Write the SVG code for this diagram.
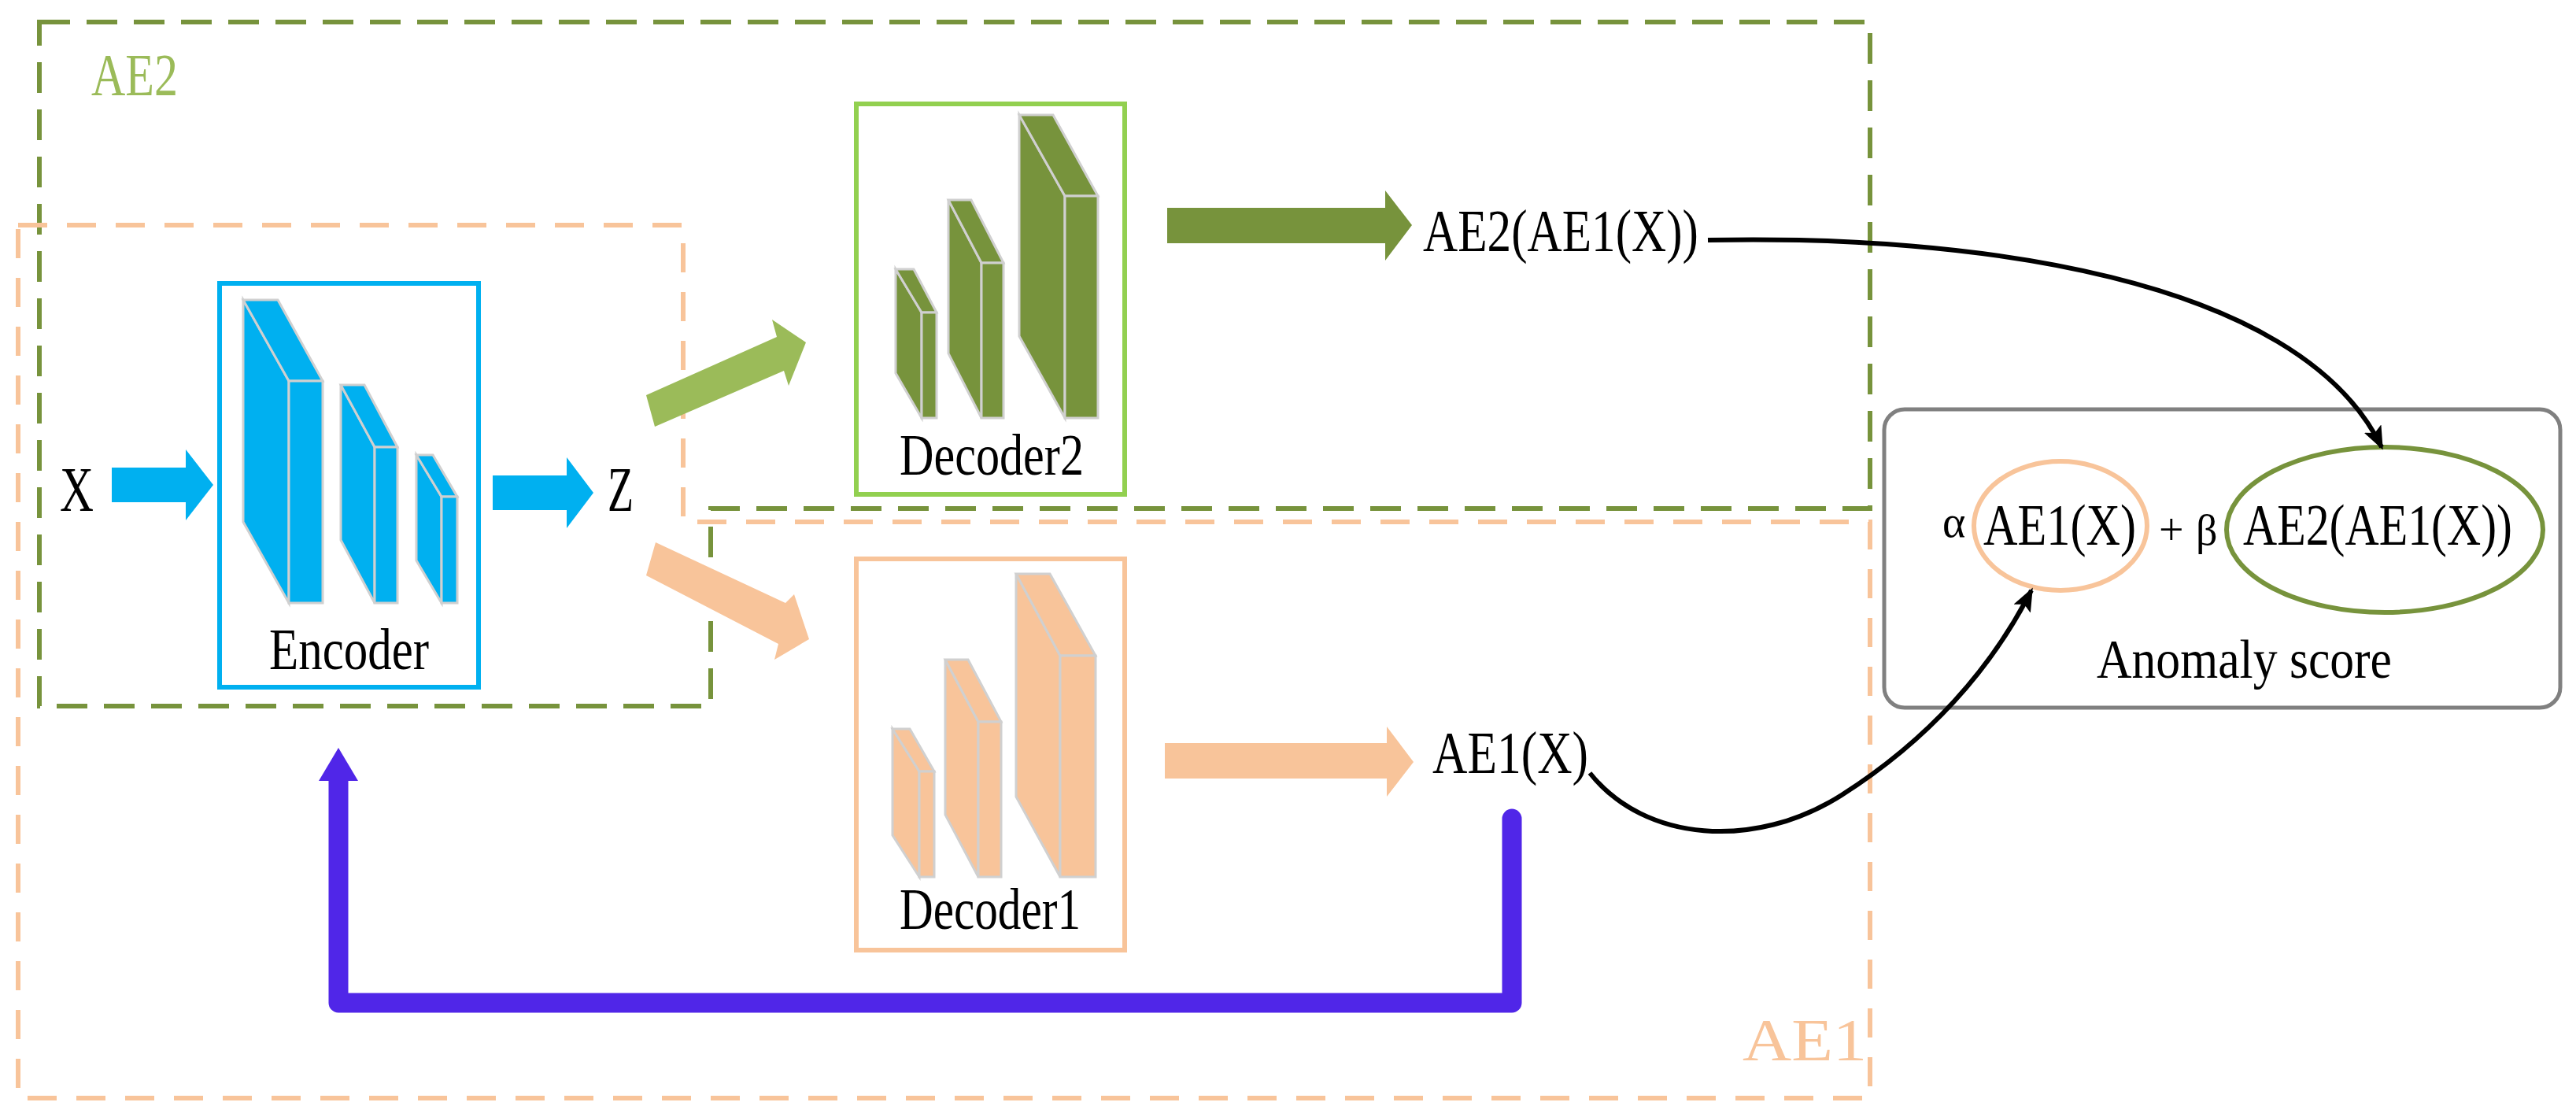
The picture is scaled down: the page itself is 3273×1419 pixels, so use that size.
<svg xmlns="http://www.w3.org/2000/svg" width="3273" height="1419" viewBox="0 0 3273 1419" font-family="'Liberation Serif', 'DejaVu Serif', serif">
<defs>
<style>
text{font-family:'Liberation Serif','DejaVu Serif',serif;fill:#000}
.blk{stroke:#D0D0D0;stroke-width:3;stroke-linejoin:miter}
.enc{fill:#00B0F0}.d2{fill:#77933C}.d1{fill:#F8C49A}
.cv{fill:none;stroke:#000;stroke-width:6}
</style>
<marker id="ah" viewBox="0 0 30 24" refX="26" refY="12" markerWidth="30" markerHeight="24" markerUnits="userSpaceOnUse" orient="auto">
<path d="M0,0 L30,12 L0,24 L6,12 Z" fill="#000"/>
</marker>
</defs>
<rect width="3273" height="1419" fill="#fff"/>
<g id="AE2-group">
<path d="M50,28 H2376 V646 H903 V897 H50 Z" fill="none" stroke="#77933C" stroke-width="6" stroke-dasharray="39 21"/>
<text x="116" y="121" font-size="77" style="fill:#9BBB59" textLength="110" lengthAdjust="spacingAndGlyphs">AE2</text>
</g>
<g id="AE1-group">
<path d="M23,286 H868 V663 H2376 V1395 H23 Z" fill="none" stroke="#F8C49A" stroke-width="6" stroke-dasharray="37 25"/>
<text x="2214" y="1347" font-size="77" style="fill:#F8C49A" textLength="158" lengthAdjust="spacingAndGlyphs">AE1</text>
</g>
<g id="encoder">
<rect x="279" y="360" width="329" height="513" fill="#fff" stroke="#00B0F0" stroke-width="6"/>
<g class="enc blk">
<polygon points="309,381 367,484 367,766 309,663"/><polygon points="309,381 353,381 410,484 367,484"/><rect x="367" y="484" width="43" height="282"/>
<polygon points="433,489 476,568 476,766 433,686"/><polygon points="433,489 463,489 505,568 476,568"/><rect x="476" y="568" width="29" height="198"/>
<polygon points="529,578 561,631 561,766 529,712"/><polygon points="529,578 550,578 581,631 561,631"/><rect x="561" y="631" width="20" height="135"/>
</g>
<text x="342" y="850" font-size="75" textLength="203" lengthAdjust="spacingAndGlyphs">Encoder</text>
</g>
<g id="decoder2">
<rect x="1088" y="132" width="341" height="496" fill="#fff" stroke="#92D050" stroke-width="6"/>
<g class="d2 blk">
<polygon points="1138,342 1171,397 1171,531 1138,474"/><polygon points="1138,342 1161,342 1190,397 1171,397"/><rect x="1171" y="397" width="19" height="134"/>
<polygon points="1205,254 1247,334 1247,531 1205,449"/><polygon points="1205,254 1234,254 1275,334 1247,334"/><rect x="1247" y="334" width="28" height="197"/>
<polygon points="1295,146 1353,249 1353,531 1295,427"/><polygon points="1295,146 1338,146 1395,249 1353,249"/><rect x="1353" y="249" width="42" height="282"/>
</g>
<text x="1143" y="603" font-size="75" textLength="234" lengthAdjust="spacingAndGlyphs">Decoder2</text>
</g>
<g id="decoder1">
<rect x="1088" y="710" width="341" height="497" fill="#fff" stroke="#F8C49A" stroke-width="6"/>
<g class="d1 blk">
<polygon points="1134,926 1168,980 1168,1114 1134,1061"/><polygon points="1134,926 1156,926 1187,980 1168,980"/><rect x="1168" y="980" width="19" height="134"/>
<polygon points="1201,838 1243,917 1243,1114 1201,1035"/><polygon points="1201,838 1230,838 1272,917 1243,917"/><rect x="1243" y="917" width="29" height="197"/>
<polygon points="1291,729 1347,833 1347,1114 1291,1012"/><polygon points="1291,729 1334,729 1392,833 1347,833"/><rect x="1347" y="833" width="45" height="281"/>
</g>
<text x="1143" y="1180" font-size="75" textLength="230" lengthAdjust="spacingAndGlyphs">Decoder1</text>
</g>
<g id="labels">
<text x="76" y="649" font-size="80" textLength="43" lengthAdjust="spacingAndGlyphs">X</text>
<text x="772" y="649" font-size="80" textLength="33" lengthAdjust="spacingAndGlyphs">Z</text>
<text x="1808" y="319" font-size="76" textLength="350" lengthAdjust="spacingAndGlyphs">AE2(AE1(X))</text>
<text x="1820" y="982" font-size="76" textLength="198" lengthAdjust="spacingAndGlyphs">AE1(X)</text>
</g>
<g id="anomaly-score">
<rect x="2394" y="520" width="859" height="379" rx="26" fill="#fff" stroke="#808080" stroke-width="5"/>
<ellipse cx="2618" cy="668" rx="110" ry="82" fill="none" stroke="#F8C49A" stroke-width="6"/>
<ellipse cx="3030" cy="673" rx="201" ry="105" fill="none" stroke="#77933C" stroke-width="6"/>
<text x="2468" y="682" font-size="56">α</text>
<text x="2520" y="692" font-size="74" textLength="194" lengthAdjust="spacingAndGlyphs">AE1(X)</text>
<text x="2743" y="692" font-size="56">+</text>
<text x="2790" y="692" font-size="54">β</text>
<text x="2850" y="692" font-size="74" textLength="342" lengthAdjust="spacingAndGlyphs">AE2(AE1(X))</text>
<text x="2664" y="861" font-size="70" textLength="375" lengthAdjust="spacingAndGlyphs">Anomaly score</text>
</g>
<g id="connectors">
<polygon fill="#00B0F0" points="142,594 236,594 236,571 271,616 236,661 236,638 142,638"/>
<polygon fill="#00B0F0" points="626,604 720,604 720,581 754,626 720,671 720,648 626,648"/>
<polygon fill="#9BBB59" points="821,502 987,428 981,406 1024,435 1002,490 996,471 832,542"/>
<polygon fill="#F8C49A" points="833,689 998,766 1009,755 1028,812 984,838 989,818 821,731"/>
<polygon fill="#77933C" points="1483,264 1760,264 1760,242 1794,286 1760,331 1760,309 1483,309"/>
<polygon fill="#F8C49A" points="1480,944 1762,944 1762,923 1796,968 1762,1012 1762,989 1480,989"/>
<path d="M1921,1040 V1274 H430 V985" fill="none" stroke="#5026E8" stroke-width="25" stroke-linecap="round" stroke-linejoin="round"/>
<polygon fill="#5026E8" points="405,992 430,950 455,992"/>
<path class="cv" d="M2170,305 C2500,298 2920,350 3026,568" marker-end="url(#ah)"/>
<path class="cv" d="M2020,982 C2090,1070 2230,1080 2340,1010 C2450,940 2530,850 2581,750" marker-end="url(#ah)"/>
</g>
</svg>
